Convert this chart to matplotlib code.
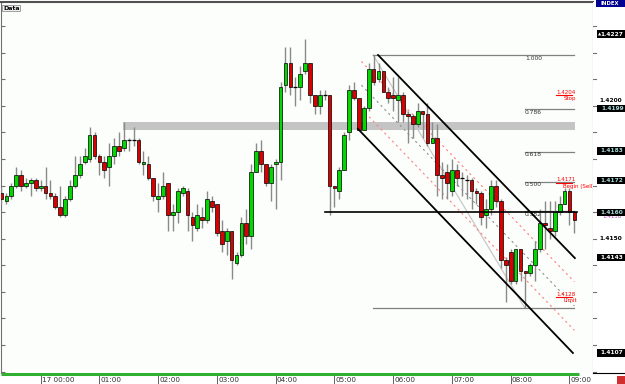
import numpy as np
import matplotlib
matplotlib.use("Agg")
import matplotlib.pyplot as plt
from matplotlib.patches import Rectangle

# 5 minute bars, first bar 23:20
opens = [1.4167, 1.4164, 1.4166, 1.4170, 1.4174, 1.4170, 1.4171, 1.4172, 1.4169, 1.4170,
         1.4167, 1.4166, 1.4162, 1.4159, 1.4165, 1.4170, 1.4174, 1.4179, 1.4180, 1.4189,
         1.4181, 1.4179, 1.4177, 1.4181, 1.4185, 1.4184, 1.4187, 1.4187, 1.4187, 1.4178,
         1.4178, 1.4173, 1.4165, 1.4166, 1.4171, 1.4159, 1.4160, 1.4167, 1.4168, 1.4158,
         1.4154, 1.4158, 1.4157, 1.4164, 1.4163, 1.4153, 1.4149, 1.4153, 1.4141, 1.4144,
         1.4156, 1.4151, 1.4175, 1.4183, 1.4178, 1.4171, 1.4178, 1.4179, 1.4208, 1.4216,
         1.4207, 1.4207, 1.4213, 1.4216, 1.4204, 1.4200, 1.4204, 1.4204, 1.4170, 1.4168,
         1.4176, 1.4190, 1.4206, 1.4203, 1.4191, 1.4199, 1.4214, 1.4210, 1.4213, 1.4205,
         1.4204, 1.4202, 1.4204, 1.4197, 1.4196, 1.4193, 1.4198, 1.4197, 1.4186, 1.4188,
         1.4174, 1.4175, 1.4168, 1.4176, 1.4173, 1.4172, 1.4172, 1.4168, 1.4167, 1.4159,
         1.4161, 1.4170, 1.4164, 1.4142, 1.4145, 1.4134, 1.4146, 1.4138, 1.4137, 1.4140,
         1.4146, 1.4156, 1.4154, 1.4153, 1.4160, 1.4163, 1.4168, 1.4160]
highs = [1.4169, 1.4167, 1.4171, 1.4177, 1.4176, 1.4173, 1.4173, 1.4173, 1.4172, 1.4177,
         1.4172, 1.4167, 1.4170, 1.4166, 1.4172, 1.4181, 1.4181, 1.4184, 1.4192, 1.4190,
         1.4182, 1.4181, 1.4186, 1.4188, 1.4190, 1.4194, 1.4188, 1.4192, 1.4188, 1.4183,
         1.4181, 1.4173, 1.4171, 1.4175, 1.4171, 1.4163, 1.4169, 1.4170, 1.4169, 1.4160,
         1.4163, 1.4162, 1.4168, 1.4166, 1.4163, 1.4157, 1.4154, 1.4153, 1.4145, 1.4158,
         1.4161, 1.4178, 1.4186, 1.4187, 1.4178, 1.4178, 1.4180, 1.4209, 1.4222, 1.4222,
         1.4211, 1.4215, 1.4225, 1.4216, 1.4204, 1.4206, 1.4206, 1.4204, 1.4170, 1.4177,
         1.4190, 1.4208, 1.4209, 1.4203, 1.4200, 1.4216, 1.4219, 1.4216, 1.4213, 1.4207,
         1.4211, 1.4211, 1.4205, 1.4198, 1.4197, 1.4201, 1.4198, 1.4201, 1.4194, 1.4193,
         1.4179, 1.4178, 1.4180, 1.4178, 1.4175, 1.4174, 1.4173, 1.4169, 1.4168, 1.4165,
         1.4172, 1.4172, 1.4165, 1.4143, 1.4146, 1.4146, 1.4146, 1.4138, 1.4141, 1.4149,
         1.4161, 1.4164, 1.4164, 1.4164, 1.4166, 1.4169, 1.4169, 1.4160]
lows = [1.4163, 1.4163, 1.4165, 1.4169, 1.4168, 1.4169, 1.4166, 1.4168, 1.4168, 1.4165,
        1.4165, 1.4161, 1.4158, 1.4158, 1.4164, 1.4169, 1.4173, 1.4178, 1.4179, 1.4180,
        1.4174, 1.4173, 1.4170, 1.4178, 1.4181, 1.4183, 1.4183, 1.4185, 1.4178, 1.4174,
        1.4172, 1.4164, 1.4160, 1.4165, 1.4153, 1.4153, 1.4156, 1.4166, 1.4153, 1.4149,
        1.4153, 1.4154, 1.4156, 1.4160, 1.4151, 1.4145, 1.4144, 1.4135, 1.4140, 1.4143,
        1.4148, 1.4146, 1.4175, 1.4175, 1.4170, 1.4164, 1.4161, 1.4172, 1.4205, 1.4204,
        1.4200, 1.4202, 1.4212, 1.4201, 1.4197, 1.4197, 1.4202, 1.4159, 1.4162, 1.4165,
        1.4176, 1.4187, 1.4202, 1.4191, 1.4191, 1.4198, 1.4208, 1.4209, 1.4205, 1.4201,
        1.4198, 1.4194, 1.4194, 1.4186, 1.4188, 1.4192, 1.4188, 1.4185, 1.4186, 1.4166,
        1.4165, 1.4165, 1.4166, 1.4170, 1.4166, 1.4165, 1.4161, 1.4163, 1.4155, 1.4154,
        1.4159, 1.4162, 1.4139, 1.4126, 1.4133, 1.4133, 1.4134, 1.4124, 1.4136, 1.4134,
        1.4145, 1.4146, 1.4150, 1.4151, 1.4159, 1.4163, 1.4155, 1.4152]
closes = [1.4165, 1.4166, 1.4170, 1.4174, 1.4170, 1.4171, 1.4172, 1.4169, 1.4170, 1.4167,
          1.4166, 1.4162, 1.4159, 1.4165, 1.4170, 1.4174, 1.4178, 1.4181, 1.4189, 1.4181,
          1.4179, 1.4176, 1.4181, 1.4185, 1.4183, 1.4187, 1.4187, 1.4187, 1.4179, 1.4179,
          1.4173, 1.4166, 1.4166, 1.4170, 1.4159, 1.4160, 1.4168, 1.4169, 1.4159, 1.4155,
          1.4159, 1.4157, 1.4165, 1.4162, 1.4152, 1.4148, 1.4153, 1.4142, 1.4144, 1.4156,
          1.4151, 1.4175, 1.4183, 1.4178, 1.4171, 1.4177, 1.4179, 1.4207, 1.4216, 1.4207,
          1.4207, 1.4212, 1.4216, 1.4204, 1.4200, 1.4204, 1.4204, 1.4170, 1.4169, 1.4176,
          1.4189, 1.4206, 1.4203, 1.4191, 1.4199, 1.4214, 1.4209, 1.4213, 1.4205, 1.4203,
          1.4203, 1.4204, 1.4197, 1.4196, 1.4193, 1.4198, 1.4197, 1.4186, 1.4188, 1.4174,
          1.4173, 1.4171, 1.4176, 1.4173, 1.4173, 1.4172, 1.4168, 1.4167, 1.4158, 1.4161,
          1.4170, 1.4164, 1.4142, 1.4140, 1.4134, 1.4146, 1.4138, 1.4137, 1.4140, 1.4146,
          1.4156, 1.4155, 1.4153, 1.4160, 1.4163, 1.4168, 1.4160, 1.4157]

hour_labels = ["17 00:00", "01:00", "02:00", "03:00", "04:00",
               "05:00", "06:00", "07:00", "08:00", "09:00"]
first_hour_bar = 8
bars_per_hour = 12

# drawn objects (bar index, price)
band = (24.9, 1.4191, 1.4194)
support = (66, 1.4160)
fib_high = (75.9, 1.42191)
fib_low = (106.9, 1.41239)
fib_ratios = [1.0, 0.786, 0.618, 0.5, 0.382, 0.0]
chan_upper = [(76.9, 1.42191), (117.1, 1.41427)]
chan_lower = [(72.8, 1.41913), (116.7, 1.41070)]
orders = [(1.4204, "Stop"), (1.4171, "Begin (Sell)"), (1.4128, "Limit")]
box_prices = [1.4227, 1.4199, 1.4183, 1.4172, 1.4160, 1.4143, 1.4107]
box_colors = ["white", "#a8d8d8", "#a8d8d8", "#a8d8d8", "#a8d8d8", "white", "white"]

W, H = 625, 384
XMIN, XMAX = -0.1, 120.8
YMIN, YMAX = 1.409947, 1.423904
BG = "#fcfefc"
GREEN = "#00d800"
RED = "#d80000"
plt.rcParams["font.family"] = ["DejaVu Sans"]

fig = plt.figure(figsize=(W / 100, H / 100), dpi=100)
fig.patch.set_facecolor("white")

ax = fig.add_axes([1 / W, (H - 373) / H, 592 / W, 371 / H])
ax.set_facecolor(BG)
ax.set_xlim(XMIN, XMAX)
ax.set_ylim(YMIN, YMAX)
ax.set_xticks([])
ax.set_yticks(np.arange(1.410, 1.4235, 0.001))
ax.tick_params(axis="y", direction="in", length=3, color="#707070", labelleft=False)
for s in ax.spines.values():
    s.set_color("#707070")
    s.set_linewidth(0.8)
ax.spines["top"].set_color("#505050")
ax.spines["top"].set_linewidth(1.5)
ax.spines["bottom"].set_visible(False)

# gray zone
ax.add_patch(Rectangle((band[0], band[1]), 117.2 - band[0], band[2] - band[1],
                       facecolor="#c4c4c4", edgecolor="none", zorder=1))

# candles
n = len(opens)
x = np.arange(n)
o = np.array(opens)
c = np.array(closes)
ax.vlines(x, lows, highs, color="#8a8a8a", linewidth=1.0, zorder=3)
for i in range(n):
    if abs(c[i] - o[i]) < 1e-9:
        ax.hlines(o[i], i - 0.4, i + 0.4, color="black", linewidth=0.9, zorder=4)
        continue
    col = GREEN if c[i] > o[i] else RED
    lo = min(o[i], c[i])
    ax.add_patch(Rectangle((i - 0.38, lo), 0.76, abs(c[i] - o[i]), facecolor=col,
                           edgecolor="black", linewidth=0.5, zorder=4))

# support line
ax.plot([support[0], 117.5], [support[1], support[1]], color="black", lw=1.2, zorder=5)

# fibonacci
rng = fib_high[1] - fib_low[1]
ax.plot([fib_high[0], fib_low[0]], [fib_high[1], fib_low[1]], color="#c8c8c8", lw=0.9, zorder=2)
for r in fib_ratios:
    lv = fib_low[1] + r * rng
    x0 = fib_high[0] if r in (0.0, 1.0) else fib_low[0]
    ax.plot([x0, 117.0], [lv, lv], color="#808080", lw=0.9, zorder=2)
    if r > 0:
        ax.text(fib_low[0], lv - 0.00003, "%.3f" % r, fontsize=4.3, color="#303030",
                ha="left", va="top", zorder=2)

# channel
def line_at(pts, xx):
    (x1, y1), (x2, y2) = pts
    return y1 + (y2 - y1) * (np.asarray(xx) - x1) / (x2 - x1)

xs = np.array([73.5, 117.0])
up = line_at(chan_upper, xs)
lw_ = line_at(chan_lower, xs)
for frac, col in [(0.25, "#ff8080"), (0.5, "#909090"), (0.75, "#ff8080")]:
    ax.plot(xs, up + (lw_ - up) * frac, color=col, lw=0.8, ls=(0, (2, 3)), zorder=2)
ax.plot([p[0] for p in chan_upper], [p[1] for p in chan_upper], color="black", lw=1.3, zorder=6)
ax.plot([p[0] for p in chan_lower], [p[1] for p in chan_lower], color="black", lw=1.3, zorder=6)

# order markers
for price, name in orders:
    ax.plot([113.2, 116.6], [price, price], color="red", lw=0.8, zorder=7)
    ax.text(113.3, price + 0.00002, "%.4f" % price, fontsize=4, color="red",
            ha="left", va="bottom", zorder=7)
    ax.text(114.7, price - 0.00003, name, fontsize=4, color="red",
            ha="left", va="top", zorder=7, clip_on=True)

# price panel
axp = fig.add_axes([593 / W, (H - 373) / H, 32 / W, 371 / H])
axp.set_facecolor("white")
axp.set_xlim(0, 1)
axp.set_ylim(YMIN, YMAX)
axp.set_xticks([])
axp.set_yticks([])
for s in axp.spines.values():
    s.set_visible(False)
axp.spines["bottom"].set_visible(True)
axp.spines["bottom"].set_color("black")
for t in np.arange(1.410, 1.4235, 0.001):
    axp.plot([0, 0.1], [t, t], color="#707070", lw=0.8)
axp.text(0.56, 1.4150, "1.4150", fontsize=4.2, color="black", fontweight="bold",
         ha="center", va="center")
axp.text(0.56, 1.42010, "1.4200", fontsize=4.2, color="black", fontweight="bold",
         ha="center", va="bottom")
hb = 0.000135
for price, tc in zip(box_prices, box_colors):
    axp.add_patch(Rectangle((0.13, price - hb), 0.87, 2 * hb, facecolor="black",
                            edgecolor="none", zorder=5))
    axp.text(0.6, price, "%.4f" % price, fontsize=4.2, color=tc, fontweight="bold",
             ha="center", va="center", zorder=6)
axp.text(0.2, box_prices[0], "\u25b2", fontsize=3, color="white", ha="center",
         va="center", zorder=6)
axp.text(0.6, 1.41583, "1.4158", fontsize=4, color="#c040c0", ha="center",
         va="center", zorder=4)

# time bar
axt = fig.add_axes([1 / W, 0, 592 / W, 11 / H])
axt.set_xlim(XMIN, XMAX)
axt.set_ylim(0, 1)
axt.axis("off")
axt.plot([XMIN, 117.9], [0.9, 0.9], color="#30b030", lw=2.2, solid_capstyle="butt")
for k, lab in enumerate(hour_labels):
    xt = first_hour_bar + k * bars_per_hour
    axt.plot([xt, xt], [0.0, 0.72], color="#606060", lw=0.7)
    axt.text(xt + 0.25, 0.33, lab, fontsize=5.2, color="#303030", ha="left", va="center")

# header tags
fig.text(3 / W, 1 - 8 / H, "Data", fontsize=4.5, fontweight="bold", ha="left", va="center",
         bbox=dict(boxstyle="square,pad=0.15", facecolor="#f0f0f0", edgecolor="#909090", lw=0.6))
fig.patches.append(Rectangle((596 / W, 1 - 7 / H), 29 / W, 7 / H, transform=fig.transFigure,
                             facecolor="#000090", edgecolor="none"))
fig.text(610 / W, 1 - 3.5 / H, "INDEX", fontsize=3.8, color="white", fontweight="bold",
         ha="center", va="center")
fig.patches.append(Rectangle((617 / W, 0), 8 / W, 8 / H, transform=fig.transFigure,
                             facecolor="#d03030", edgecolor="none"))

fig.savefig("out.png", dpi=100, facecolor="white")
